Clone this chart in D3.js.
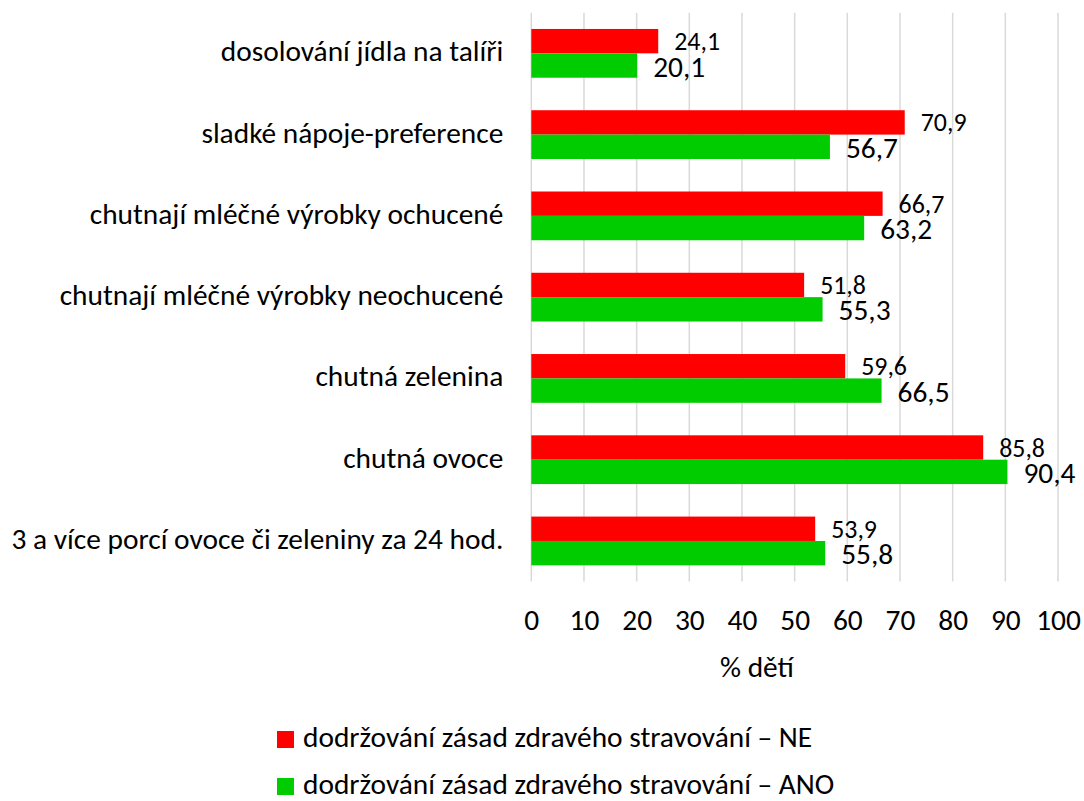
<!DOCTYPE html>
<html>
<head>
<meta charset="utf-8">
<script src="https://cdn.jsdelivr.net/npm/d3@7"></script>
<style>
  body { margin: 0; background: #fff; }
  svg { font-family: Carlito, Calibri, Lato, sans-serif; }
</style>
</head>
<body>
<div id="chart"></div>
<script>
const categories = [
    'dosolování jídla na talíři',
    'sladké nápoje-preference',
    'chutnají mléčné výrobky ochucené',
    'chutnají mléčné výrobky neochucené',
    'chutná zelenina',
    'chutná ovoce',
    '3 a více porcí ovoce či zeleniny za 24 hod.'
];
const valuesNE = [24.1, 70.9, 66.7, 51.8, 59.6, 85.8, 53.9];
const valuesANO = [20.1, 56.7, 63.2, 55.3, 66.5, 90.4, 55.8];
const seriesNames = [
    'dodržování zásad zdravého stravování – NE',
    'dodržování zásad zdravého stravování – ANO'
];
const xTicks = [0, 10, 20, 30, 40, 50, 60, 70, 80, 90, 100];

const width = 1084;
const height = 801;
const margin = { top: 12.7, right: 26, bottom: 219.4, left: 531.3 };

const svg = d3.select('#chart').append('svg')
    .attr('width', width)
    .attr('height', height);

// pick a font size so the longest category label is as wide as in the original
const probe = svg.append('text')
    .attr('font-size', 20)
    .text(categories[6]);
const probeWidth = probe.node().getComputedTextLength();
probe.remove();
const fs = 20 * 492 / probeWidth;
const fsSmall = fs * 0.88;

const x = d3.scaleLinear()
    .domain([0, 100])
    .range([margin.left, width - margin.right]);

const y = d3.scaleBand()
    .domain(categories)
    .range([margin.top, height - margin.bottom])
    .paddingInner(0.4)
    .paddingOuter(0.2);

const sub = d3.scaleBand()
    .domain(['NE', 'ANO'])
    .range([0, y.bandwidth()]);

const colors = { NE: '#ff0000', ANO: '#00cc00' };

// gridlines
svg.append('g')
    .selectAll('line')
    .data(xTicks)
    .join('line')
    .attr('x1', d => x(d))
    .attr('x2', d => x(d))
    .attr('y1', margin.top)
    .attr('y2', height - margin.bottom)
    .attr('stroke', '#d9d9d9')
    .attr('stroke-width', 1.5);

// tick labels
const xAxis = svg.append('g')
    .attr('transform', `translate(0,${height - margin.bottom})`)
    .call(d3.axisBottom(x).tickValues(xTicks).tickSize(0).tickPadding(0));
xAxis.select('.domain').remove();
xAxis.selectAll('text')
    .attr('y', 48)
    .attr('dy', null)
    .attr('font-size', fs)
    .attr('font-family', 'Carlito, Calibri, Lato, sans-serif')
    .attr('fill', '#000');

// category labels
const yAxis = svg.append('g')
    .attr('transform', `translate(${margin.left},0)`)
    .call(d3.axisLeft(y).tickSize(0).tickPadding(28));
yAxis.select('.domain').remove();
yAxis.selectAll('text')
    .attr('dy', 8)
    .attr('font-size', fs)
    .attr('font-family', 'Carlito, Calibri, Lato, sans-serif')
    .attr('fill', '#000');

// bars
const rows = categories.map((c, i) => ({ cat: c, NE: valuesNE[i], ANO: valuesANO[i] }));

const groups = svg.append('g')
    .selectAll('g')
    .data(rows)
    .join('g')
    .attr('transform', d => `translate(0,${y(d.cat)})`);

groups.selectAll('rect')
    .data(d => ['NE', 'ANO'].map(k => ({ key: k, value: d[k] })))
    .join('rect')
    .attr('x', x(0))
    .attr('y', d => sub(d.key))
    .attr('width', d => x(d.value) - x(0))
    .attr('height', sub.bandwidth())
    .attr('fill', d => colors[d.key]);

groups.selectAll('text')
    .data(d => ['NE', 'ANO'].map(k => ({ key: k, value: d[k] })))
    .join('text')
    .attr('x', d => x(d.value) + 16)
    .attr('y', d => sub(d.key) + sub.bandwidth() / 2 + (d.key === 'NE' ? 9 : 11))
    .attr('font-size', d => d.key === 'NE' ? fsSmall : fs)
    .attr('fill', '#000')
    .text(d => d3.format('.1f')(d.value).replace('.', ','));

// axis title
svg.append('text')
    .attr('x', 757)
    .attr('y', 677)
    .attr('text-anchor', 'middle')
    .attr('font-size', fs)
    .text('% dětí');

// legend
const legend = svg.append('g')
    .selectAll('g')
    .data(['NE', 'ANO'])
    .join('g')
    .attr('transform', (d, i) => `translate(277,${747 + i * 47})`);

legend.append('rect')
    .attr('x', 0)
    .attr('y', -16)
    .attr('width', 17)
    .attr('height', 17)
    .attr('fill', d => colors[d]);

legend.append('text')
    .attr('x', 26)
    .attr('y', 0)
    .attr('font-size', fs)
    .text((d, i) => seriesNames[i]);
</script>
</body>
</html>
